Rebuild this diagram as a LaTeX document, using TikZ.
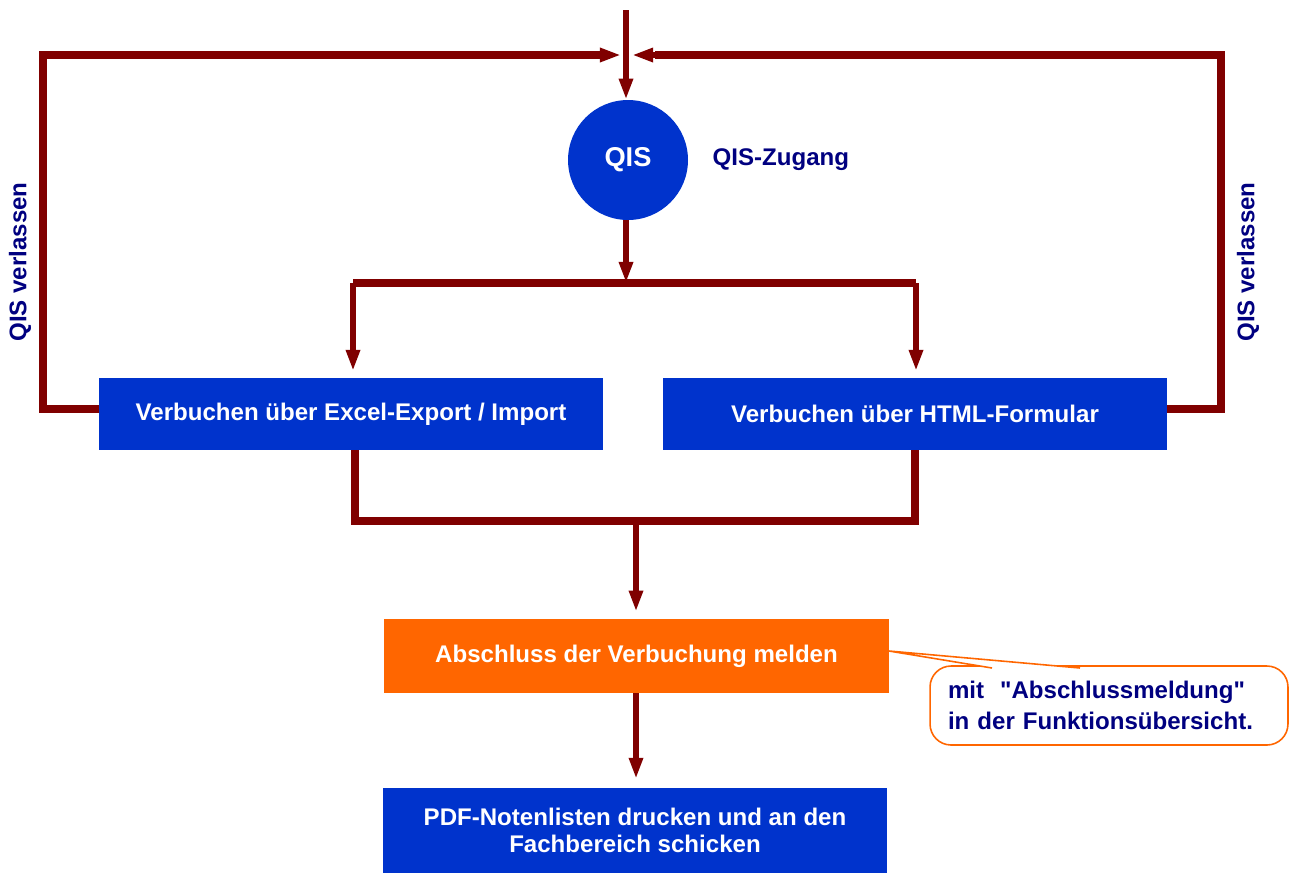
\documentclass[tikz,border=0pt]{standalone}
\usepackage{fontspec}
\newfontfamily\arial{Liberation Sans}
\usetikzlibrary{positioning, arrows.meta}

\definecolor{qisblau}{HTML}{0033CC}
\definecolor{qisrot}{HTML}{800000}
\definecolor{qisorange}{HTML}{FF6600}
\definecolor{qisnavy}{HTML}{000080}

\tikzset{
	schrift/.style={font=\arial\bfseries\fontsize{13.7}{15.6}\selectfont},
	box/.style={schrift, fill=qisblau, text=white, align=center, inner sep=0pt, minimum width=10.08cm, minimum height=1.44cm},
	flow/.style={qisrot, line width=4.4pt},
	pfeil/.style={qisrot, line width=3.4pt, -{Triangle[length=12pt,width=7.5pt]}},
	hinweis/.style={schrift, text=qisnavy, inner sep=0pt}
}

\begin{document}
\begin{tikzpicture}[x=0.02cm, y=-0.02cm]
	\useasboundingbox (0,0) rectangle (1290,873);
	\draw node (qis)[circle, fill=qisblau, text=white, schrift, font=\arial\bfseries\fontsize{15.5}{18}\selectfont, minimum size=2.4cm, inner sep=0pt] at (628,160) {QIS};
	\draw node (zugang)[hinweis, right=0.48cm of qis] {QIS-Zugang};
	\draw node (excel)[box] at (351,414) {Verbuchen über Excel-Export / Import};
	\draw node (html)[box] at (915,414) {Verbuchen über HTML-Formular};
	\draw node (melden)[box, fill=qisorange, minimum width=10.1cm, minimum height=1.48cm] at (636.5,656) {Abschluss der Verbuchung melden};
	\draw node (pdf)[box, minimum height=1.7cm] at (635,830.5) {PDF-Notenlisten drucken und an den\\Fachbereich schicken};
	\draw node (verlassenL)[hinweis, rotate=90] at (20,262) {QIS verlassen};
	\draw node (verlassenR)[hinweis, rotate=90] at (1248,262) {QIS verlassen};
	\draw node (notiz)[hinweis, draw=qisorange, line width=0.9pt, rounded corners=0.42cm, text width=6.44cm, inner xsep=0.36cm, minimum height=1.58cm, align=left, font=\arial\bfseries\fontsize{13.7}{18}\selectfont] at (1109,705.5) {mit~~"Abschlussmeldung"\\in der Funktionsübersicht.};
	\coordinate (start) at (626,10);
	\coordinate (gabel) at (626,283);
	\coordinate (sammel) at (636,521);
	\coordinate (spitze) at (889,651);
	\draw[pfeil, -] (start) -- (626,60);
	\draw[pfeil] (626,60) -- (gabel |- qis.north);
	\draw[flow] (excel.west) ++(0,-5) -- ++(-56,0) |- (600,55);
	\draw[pfeil] (600,55) -- (621,55);
	\draw[flow] (html.east) ++(0,-5) -- ++(54,0) |- (655,55);
	\draw[pfeil] (655,55) -- (632,55);
	\draw[pfeil] (gabel |- qis.south) -- (gabel);
	\draw[flow] (353,283) -- (916,283);
	\draw[pfeil, shorten >=4pt] (353,283) -- (353,378);
	\draw[pfeil, shorten >=4pt] (916,283) -- (916,378);
	\draw[flow] (excel.south) ++(4,0) |- (sammel) -| (html.south);
	\draw[pfeil, shorten >=4pt] (sammel) -- (sammel |- melden.north);
	\draw[pfeil, shorten >=5pt] (sammel |- melden.south) -- (sammel |- pdf.north);
	\path[fill=white, draw=qisorange, line width=0.9pt] (992,668) -- (spitze) -- (1080,668);
\end{tikzpicture}
\end{document}
